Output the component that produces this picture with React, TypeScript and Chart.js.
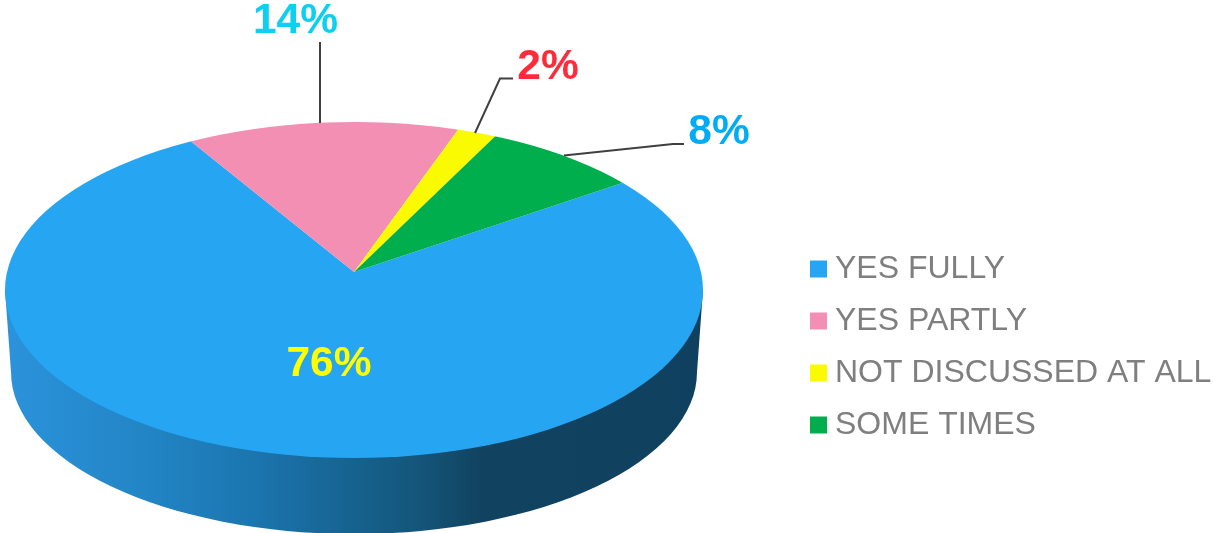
import React, { useEffect, useRef } from "react";
import { Chart, registerables } from "chart.js";

Chart.register(...registerables);

const categories = ["YES FULLY", "YES PARTLY", "NOT DISCUSSED AT ALL", "SOME TIMES"];
const percentages = [76, 14, 2, 8];
const sliceColors = ["#26a5f2", "#f28fb2", "#fafa00", "#00ae4e"];
const labelColors = ["#ffff00", "#0bd0ef", "#ff2a3a", "#00acf7"];

const FONT = '"Liberation Sans", Arial, sans-serif';
const SQUASH = 168 / 349;
const TOP = { cx: 354, cy: 290, rx: 349, ry: 168 };
const BASE = { cx: 354, cy: 372, rx: 343, ry: 162 };

// where each percentage text sits, with its leader line (slice order)
const callouts = [
  { x: 329, y: 376, line: [] as number[][] },
  { x: 295.5, y: 33, line: [[320, 42], [320, 123]] },
  { x: 548, y: 79, line: [[475, 133], [500, 78.5], [513, 78.5]] },
  { x: 719, y: 144, line: [[564, 155.5], [673, 144], [684, 144]] },
];

const pie3d = {
  id: "pie3d",
  afterLayout(chart: any) {
    const legend = chart.legend;
    legend.left = 798;
    legend.top = 233;
    legend.right = 1214;
    legend.bottom = 533;
  },
  beforeDatasetsDraw(chart: any) {
    const ctx = chart.ctx;
    const arc = chart.getDatasetMeta(0).data[0];
    ctx.save();
    // side wall
    const g = ctx.createLinearGradient(5, 0, 703, 0);
    g.addColorStop(0, "#2b93dc");
    g.addColorStop(0.2, "#2285c5");
    g.addColorStop(0.36, "#1b75ae");
    g.addColorStop(0.5, "#16628f");
    g.addColorStop(0.6, "#145478");
    g.addColorStop(0.68, "#114360");
    g.addColorStop(1, "#10405f");
    ctx.fillStyle = g;
    ctx.beginPath();
    ctx.moveTo(TOP.cx - TOP.rx, TOP.cy);
    ctx.lineTo(BASE.cx - BASE.rx, BASE.cy);
    ctx.ellipse(BASE.cx, BASE.cy, BASE.rx, BASE.ry, 0, Math.PI, 0, true);
    ctx.lineTo(TOP.cx + TOP.rx, TOP.cy);
    ctx.closePath();
    ctx.fill();
    // top face: the pie, flattened and clipped to the tilted disc outline
    ctx.beginPath();
    ctx.ellipse(TOP.cx, TOP.cy, TOP.rx, TOP.ry, 0, 0, Math.PI * 2);
    ctx.clip();
    ctx.translate(arc.x, arc.y);
    ctx.scale(1, SQUASH);
    ctx.translate(-arc.x, -arc.y);
  },
  afterDatasetsDraw(chart: any) {
    const ctx = chart.ctx;
    ctx.restore();
    ctx.save();
    ctx.strokeStyle = "#404040";
    ctx.lineWidth = 2;
    ctx.font = `bold 42.5px ${FONT}`;
    ctx.textAlign = "center";
    ctx.textBaseline = "alphabetic";
    chart.data.datasets[0].data.forEach((v: number, i: number) => {
      const c = callouts[i];
      if (c.line.length) {
        ctx.beginPath();
        c.line.forEach(([x, y], k) => (k ? ctx.lineTo(x, y) : ctx.moveTo(x, y)));
        ctx.stroke();
      }
      ctx.fillStyle = labelColors[i];
      ctx.fillText(`${v}%`, c.x, c.y);
    });
    ctx.restore();
  },
};

export default function App() {
  const ref = useRef<HTMLCanvasElement>(null);
  useEffect(() => {
    const chart = new Chart(ref.current!, {
      type: "pie",
      data: {
        labels: categories,
        datasets: [
          {
            data: percentages,
            backgroundColor: sliceColors,
            borderWidth: 0,
            clip: false,
          } as any,
        ],
      },
      options: {
        animation: false,
        responsive: false,
        rotation: 55.4,
        radius: 400,
        layout: { padding: { left: 0, right: 506, top: 11, bottom: 0 } },
        plugins: {
          tooltip: { enabled: false },
          title: { display: false },
          legend: {
            position: "chartArea" as any,
            align: "start",
            labels: {
              color: "#7f7f7f",
              font: { family: FONT, size: 32 },
              padding: 20,
              boxWidth: 1,
              boxHeight: 1,
              generateLabels: (c: any) =>
                (Chart as any).overrides.doughnut.plugins.legend.labels
                  .generateLabels(c)
                  .map((item: any) => ({
                    ...item,
                    strokeStyle: item.fillStyle,
                    lineWidth: 16,
                  })),
            },
          },
        },
      },
      plugins: [pie3d],
    });
    return () => chart.destroy();
  }, []);
  return (
    <div style={{ position: "absolute", left: 0, top: 0, width: 1214, height: 533, overflow: "hidden" }}>
      <canvas ref={ref} width={1214} height={533} style={{ display: "block" }} />
    </div>
  );
}
